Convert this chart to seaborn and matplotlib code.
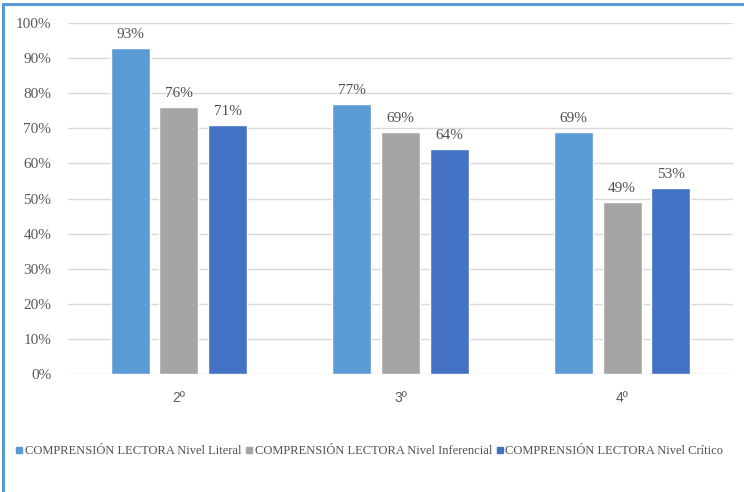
import matplotlib
matplotlib.use("Agg")
import matplotlib.pyplot as plt
import seaborn as sns
import pandas as pd
from matplotlib.lines import Line2D
from matplotlib.ticker import FuncFormatter

grades = ["2º", "3º", "4º"]
series = ["COMPRENSIÓN LECTORA Nivel Literal",
          "COMPRENSIÓN LECTORA Nivel Inferencial",
          "COMPRENSIÓN LECTORA Nivel Crítico"]
literal = [93, 77, 69]
inferencial = [76, 69, 49]
critico = [71, 64, 53]
y_ticks = [0, 10, 20, 30, 40, 50, 60, 70, 80, 90, 100]

colors = ["#5B9BD5", "#A5A5A5", "#4472C4"]

rows = []
for s, vals in zip(series, [literal, inferencial, critico]):
    for g, v in zip(grades, vals):
        rows.append({"grade": g, "serie": s, "value": v})
df = pd.DataFrame(rows)

sns.set_theme(style="white")
plt.rcParams['font.family'] = ['Liberation Serif', 'DejaVu Serif']
serif = ['Liberation Serif', 'DejaVu Serif']

fig = plt.figure(figsize=(7.44, 4.92), dpi=100)
ax = fig.add_axes([68/744, 1-374/492, 665/744, 351/492])

sns.barplot(data=df, x="grade", y="value", hue="serie", palette=colors,
            width=0.66, gap=0.2, ax=ax, legend=True, saturation=1)

ax.set_ylim(0, 100)
ax.set_xlim(-0.5, 2.5)
ax.set_yticks(y_ticks)
ax.yaxis.set_major_formatter(FuncFormatter(lambda v, p: f"{int(v)}%"))
ax.grid(axis="y", color="#D9D9D9", linewidth=1)
ax.set_axisbelow(True)
for sp in ax.spines.values():
    sp.set_visible(False)
ax.set_xlabel("")
ax.set_ylabel("")
ax.tick_params(axis="y", labelsize=11, colors="#595959", length=0, pad=12)
ax.tick_params(axis="x", length=0, pad=12)
for lbl in ax.get_yticklabels():
    lbl.set_fontfamily(serif)
for lbl in ax.get_xticklabels():
    lbl.set_fontfamily(["Liberation Sans", "DejaVu Sans"])
    lbl.set_fontsize(10)
    lbl.set_color("#595959")

for cont in ax.containers:
    ax.bar_label(cont, fmt="%d%%", padding=5, fontsize=11, color="#505050",
                 fontfamily=serif)

ax.legend_.remove()
mk = [Line2D([0], [0], marker="s", linestyle="", markersize=4.5,
             markerfacecolor=c, markeredgecolor=c) for c in colors]
fig.legend(mk, series, loc="center left", bbox_to_anchor=(15/744, 1-451/492),
           ncol=3, frameon=False, prop={"family": serif, "size": 9.0},
           handletextpad=0.1, columnspacing=0.25, handlelength=0.7,
           labelcolor="#505050", borderaxespad=0, borderpad=0)

# blue frame at top and left
fig.add_artist(Line2D([3/744, 3/744], [0, 1-4/492], transform=fig.transFigure,
                      color="#5B9BD5", linewidth=2.2))
fig.add_artist(Line2D([3/744, 1], [1-4/492, 1-4/492], transform=fig.transFigure,
                      color="#5B9BD5", linewidth=2.2))

fig.savefig("out.png", dpi=100)
